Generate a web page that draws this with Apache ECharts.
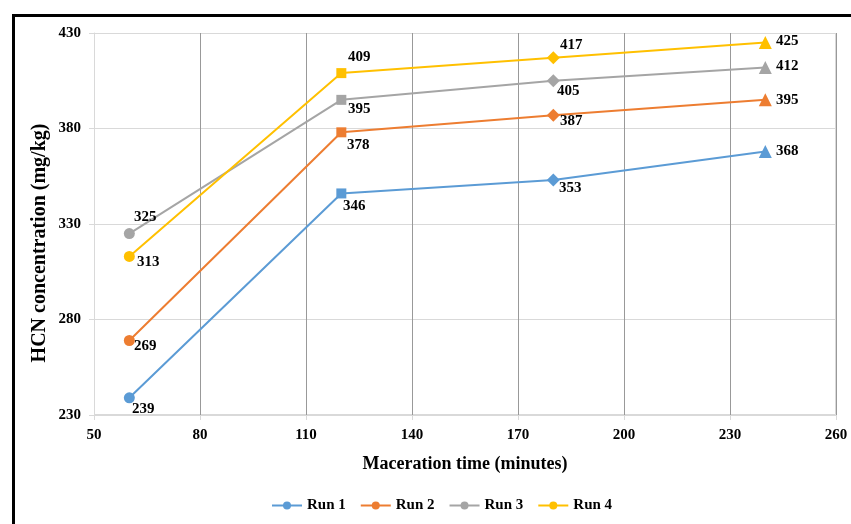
<!DOCTYPE html>
<html><head><meta charset="utf-8">
<script src="https://cdn.jsdelivr.net/npm/echarts@6/dist/echarts.min.js"></script>
<style>html,body{margin:0;padding:0;background:#fff}#c{width:851px;height:524px}</style>
</head><body><div id="c"></div>
<script>
const times = [60, 120, 180, 240];
const seriesNames = ['Run 1', 'Run 2', 'Run 3', 'Run 4'];
const run1 = [239, 346, 353, 368];
const run2 = [269, 378, 387, 395];
const run3 = [325, 395, 405, 412];
const run4 = [313, 409, 417, 425];
const xTicks = [50, 80, 110, 140, 170, 200, 230, 260];
const yTicks = [230, 280, 330, 380, 430];
const xTitle = 'Maceration time (minutes)';
const yTitle = 'HCN concentration (mg/kg)';

const colors = ['#5B9BD5', '#ED7D31', '#A5A5A5', '#FFC000'];
const symbols = ['circle', 'rect', 'diamond', 'triangle'];
const symSizes = [11, 10, 13, 13];
// label offsets (dx, dy) relative to point centre, per series per point
const offs = [
  [[14, 11], [13, 13], [17, 8], [22, 0]],
  [[16, 6], [17, 13], [18, 6], [22, 0]],
  [[16, -16], [18, 9], [15, 10], [22, -1]],
  [[19, 6], [18, -16], [18, -13], [22, -1]]
];
const allRuns = [run1, run2, run3, run4];
const FONT = '"Liberation Serif", "Times New Roman", serif';

const series = allRuns.map((vals, si) => ({
  name: seriesNames[si],
  type: 'line',
  symbol: 'circle',
  symbolSize: 11,
  itemStyle: { color: colors[si] },
  lineStyle: { color: colors[si], width: 2 },
  z: 3 + si,
  data: vals.map((v, i) => ({
    value: [times[i], v],
    symbol: symbols[i],
    symbolSize: symSizes[i],
    label: {
      show: true, position: 'inside', align: 'center', verticalAlign: 'middle',
      offset: offs[si][i],
      formatter: String(v),
      color: '#000', fontFamily: FONT, fontWeight: 'bold', fontSize: 15
    }
  }))
}));

const chart = echarts.init(document.getElementById('c'), null, { renderer: 'canvas' });
chart.setOption({
  animation: false,
  backgroundColor: '#fff',
  graphic: [{
    type: 'rect', silent: true, z: 100,
    shape: { x: 13.5, y: 15.5, width: 900, height: 600 },
    style: { fill: 'none', stroke: '#000', lineWidth: 3 }
  }, {
    type: 'rect', silent: true, z: 0,
    shape: { x: 94.5, y: 33.5, width: 741, height: 381 },
    style: { fill: 'none', stroke: '#D9D9D9', lineWidth: 1 }
  }, {
    type: 'text', silent: true, z: 50,
    x: 40, y: 243, rotation: Math.PI / 2,
    style: {
      text: yTitle, fill: '#000', font: 'bold 20px ' + FONT,
      align: 'center', verticalAlign: 'middle'
    }
  }],
  grid: { left: 94, right: 15, top: 33, bottom: 109, containLabel: false },
  legend: {
    bottom: 6, left: 266, itemWidth: 30, itemHeight: 10, itemGap: 14,
    data: seriesNames,
    textStyle: { fontFamily: FONT, fontWeight: 'bold', fontSize: 15, color: '#000' }
  },
  xAxis: {
    type: 'value', min: xTicks[0], max: xTicks[xTicks.length - 1], interval: 30,
    name: xTitle, nameLocation: 'middle', nameGap: 40,
    nameTextStyle: { fontFamily: FONT, fontWeight: 'bold', fontSize: 18, color: '#000' },
    axisLine: { show: true, lineStyle: { color: '#D9D9D9' } },
    axisTick: { show: true, length: 5, lineStyle: { color: '#D9D9D9' } },
    axisLabel: { fontFamily: FONT, fontWeight: 'bold', fontSize: 15, color: '#000', margin: 13 },
    splitLine: { show: true, lineStyle: { color: '#999999', width: 1 } }
  },
  yAxis: {
    type: 'value', min: yTicks[0], max: yTicks[yTicks.length - 1], interval: 50,
    axisLine: { show: true, lineStyle: { color: '#D9D9D9' } },
    axisTick: { show: true, length: 5, lineStyle: { color: '#D9D9D9' } },
    axisLabel: { fontFamily: FONT, fontWeight: 'bold', fontSize: 15, color: '#000', margin: 13 },
    splitLine: { show: true, lineStyle: { color: '#D9D9D9', width: 1 } }
  },
  series: series
});
</script>
</body></html>
